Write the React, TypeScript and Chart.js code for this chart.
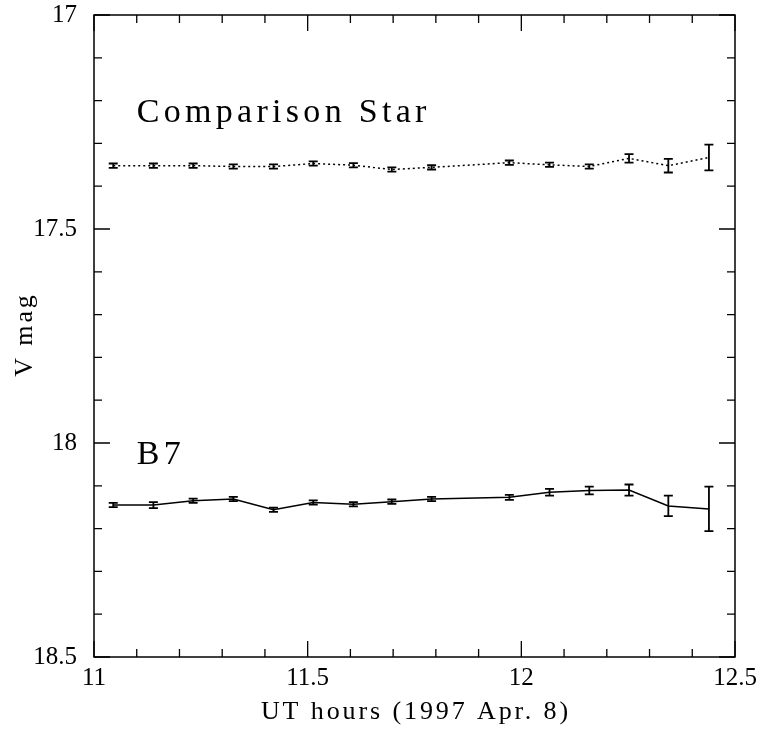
import React, { useEffect, useRef } from "react";
import { Chart, registerables } from "chart.js";

Chart.register(...registerables);

// UT hours of each observation
const times = [11.045, 11.139, 11.232, 11.326, 11.42, 11.513, 11.607, 11.697, 11.79, 11.972, 12.066, 12.159, 12.252, 12.344, 12.439];
// Comparison star V magnitudes and errors
const compMag = [17.352, 17.352, 17.352, 17.354, 17.354, 17.347, 17.351, 17.361, 17.356, 17.345, 17.35, 17.354, 17.335, 17.352, 17.333];
const compErr = [0.005, 0.005, 0.005, 0.005, 0.005, 0.005, 0.005, 0.005, 0.005, 0.005, 0.005, 0.005, 0.01, 0.016, 0.03];
// B7 V magnitudes and errors
const b7Mag = [18.145, 18.145, 18.135, 18.131, 18.156, 18.139, 18.143, 18.137, 18.131, 18.127, 18.115, 18.111, 18.11, 18.147, 18.154];
const b7Err = [0.005, 0.007, 0.005, 0.005, 0.005, 0.005, 0.005, 0.005, 0.005, 0.006, 0.008, 0.009, 0.013, 0.024, 0.052];

// tick labels
const xTickLabels = [11, 11.5, 12, 12.5];
const yTickLabels = [17, 17.5, 18, 18.5];

// axis titles
const xTitle = "UT hours (1997 Apr. 8)";
const yTitle = "V mag";

// in-plot labels
const labelTexts = ["Comparison Star", "B7"];
const labelX = [11.1, 11.1];
const labelY = [17.25, 18.05];

const FONT = "'Liberation Serif', 'DejaVu Serif', serif";

const decorPlugin = {
  id: "decor",
  afterDatasetsDraw(chart: any) {
    const ctx = chart.ctx;
    const xs = chart.scales.x;
    const ys = chart.scales.y;
    const { left, right, top, bottom } = chart.chartArea;
    ctx.save();
    ctx.strokeStyle = "#000";
    ctx.fillStyle = "#000";

    // error bars
    const drawErr = (mags: number[], errs: number[]) => {
      ctx.lineWidth = 1.8;
      for (let i = 0; i < times.length; i++) {
        const px = xs.getPixelForValue(times[i]);
        const y1 = ys.getPixelForValue(mags[i] - errs[i]);
        const y2 = ys.getPixelForValue(mags[i] + errs[i]);
        ctx.beginPath();
        ctx.moveTo(px, y1);
        ctx.lineTo(px, y2);
        ctx.moveTo(px - 4.5, y1);
        ctx.lineTo(px + 4.5, y1);
        ctx.moveTo(px - 4.5, y2);
        ctx.lineTo(px + 4.5, y2);
        ctx.stroke();
      }
    };
    drawErr(compMag, compErr);
    drawErr(b7Mag, b7Err);

    // frame
    ctx.lineWidth = 1.5;
    ctx.strokeRect(left, top, right - left, bottom - top);

    // inward ticks
    ctx.lineWidth = 1.3;
    const xmin = xs.min, xmax = xs.max;
    const nx = Math.round((xmax - xmin) / 0.1);
    for (let i = 0; i <= nx; i++) {
      const v = xmin + i * 0.1;
      const px = xs.getPixelForValue(v);
      const len = i % 5 === 0 ? 16 : 8;
      ctx.beginPath();
      ctx.moveTo(px, bottom);
      ctx.lineTo(px, bottom - len);
      ctx.moveTo(px, top);
      ctx.lineTo(px, top + len);
      ctx.stroke();
    }
    const ymin = ys.min, ymax = ys.max;
    const ny = Math.round((ymax - ymin) / 0.1);
    for (let i = 0; i <= ny; i++) {
      const v = ymin + i * 0.1;
      const py = ys.getPixelForValue(v);
      const len = i % 5 === 0 ? 16 : 8;
      ctx.beginPath();
      ctx.moveTo(left, py);
      ctx.lineTo(left + len, py);
      ctx.moveTo(right, py);
      ctx.lineTo(right - len, py);
      ctx.stroke();
    }

    // text labels
    ctx.font = `34px ${FONT}`;
    (ctx as any).letterSpacing = "4.3px";
    ctx.textAlign = "left";
    ctx.textBaseline = "alphabetic";
    for (let i = 0; i < labelTexts.length; i++) {
      ctx.fillText(labelTexts[i], xs.getPixelForValue(labelX[i]), ys.getPixelForValue(labelY[i]));
    }

    // axis titles
    ctx.font = `26px ${FONT}`;
    (ctx as any).letterSpacing = "2.9px";
    ctx.textAlign = "left";
    const xw = ctx.measureText(xTitle).width - 2.9;
    ctx.fillText(xTitle, (left + right) / 2 - xw / 2, 719);
    const yw = ctx.measureText(yTitle).width - 2.9;
    ctx.save();
    ctx.translate(32, (top + bottom) / 2 + yw / 2);
    ctx.rotate(-Math.PI / 2);
    ctx.fillText(yTitle, 0, 0);
    ctx.restore();

    ctx.restore();
  },
};

export default function App() {
  const ref = useRef<HTMLCanvasElement | null>(null);
  useEffect(() => {
    if (!ref.current) return;
    const chart = new Chart(ref.current, {
      type: "line",
      data: {
        datasets: [
          {
            label: "Comparison Star",
            data: times.map((t, i) => ({ x: t, y: compMag[i] })),
            borderColor: "#000",
            borderWidth: 1.5,
            borderDash: [2, 3],
            pointRadius: 0,
            tension: 0,
            fill: false,
          },
          {
            label: "B7",
            data: times.map((t, i) => ({ x: t, y: b7Mag[i] })),
            borderColor: "#000",
            borderWidth: 1.5,
            pointRadius: 0,
            tension: 0,
            fill: false,
          },
        ],
      },
      options: {
        responsive: false,
        animation: false,
        devicePixelRatio: 1,
        layout: { padding: { top: 15, right: 29, left: 0, bottom: 0 } },
        plugins: { legend: { display: false }, tooltip: { enabled: false } },
        scales: {
          x: {
            type: "linear",
            min: 11,
            max: 12.5,
            afterFit: (s: any) => {
              s.height = 72;
              s.paddingLeft = 0;
              s.paddingRight = 0;
            },
            afterBuildTicks: (s: any) => {
              s.ticks = xTickLabels.map((v) => ({ value: v }));
            },
            ticks: {
              callback: (v: any) => String(v),
              font: { family: FONT, size: 25 },
              color: "#000",
              padding: 6,
              maxRotation: 0,
              autoSkip: false,
            },
            grid: { display: false, drawTicks: false },
            border: { display: false },
            title: { display: false },
          },
          y: {
            type: "linear",
            reverse: true,
            min: 17,
            max: 18.5,
            afterFit: (s: any) => {
              s.width = 94;
              s.paddingTop = 0;
              s.paddingBottom = 0;
            },
            afterBuildTicks: (s: any) => {
              s.ticks = yTickLabels.map((v) => ({ value: v }));
            },
            ticks: {
              callback: (v: any) => String(v),
              font: { family: FONT, size: 25 },
              color: "#000",
              padding: 17,
              autoSkip: false,
            },
            grid: { display: false, drawTicks: false },
            border: { display: false },
            title: { display: false },
          },
        },
      } as any,
      plugins: [decorPlugin],
    });
    return () => chart.destroy();
  }, []);
  return (
    <div style={{ position: "fixed", left: 0, top: 0, width: 764, height: 729, background: "#fff" }}>
      <canvas ref={ref} width={764} height={729} style={{ width: 764, height: 729 }} />
    </div>
  );
}
